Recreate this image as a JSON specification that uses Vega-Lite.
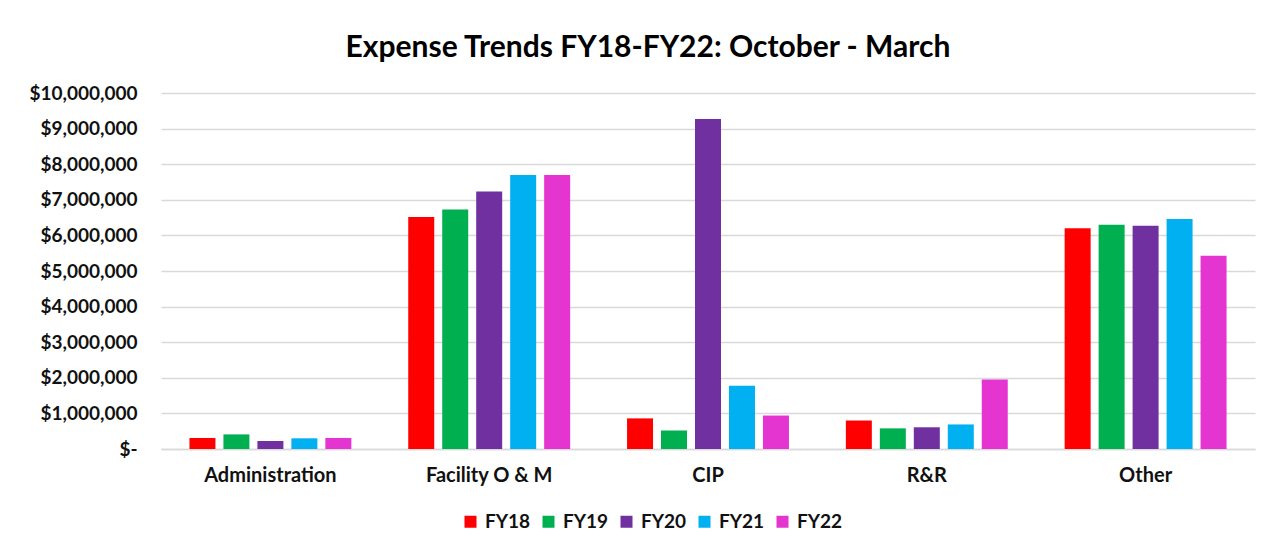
{
  "$schema": "https://vega.github.io/schema/vega-lite/v6.json",
  "width": 1094,
  "height": 356,
  "autosize": "none",
  "padding": {"left": 161, "top": 93, "right": 24, "bottom": 101},
  "background": "white",
  "title": {
    "text": "Expense Trends FY18-FY22: October - March",
    "font": "Lato",
    "fontSize": 30,
    "fontWeight": "bold",
    "color": "#000000",
    "anchor": "middle",
    "dx": -60,
    "offset": 21
  },
  "data": {
    "values": [
      {"category": "Administration", "year": "FY18", "value": 310000},
      {"category": "Administration", "year": "FY19", "value": 410000},
      {"category": "Administration", "year": "FY20", "value": 225000},
      {"category": "Administration", "year": "FY21", "value": 300000},
      {"category": "Administration", "year": "FY22", "value": 310000},
      {"category": "Facility O & M", "year": "FY18", "value": 6520000},
      {"category": "Facility O & M", "year": "FY19", "value": 6730000},
      {"category": "Facility O & M", "year": "FY20", "value": 7230000},
      {"category": "Facility O & M", "year": "FY21", "value": 7700000},
      {"category": "Facility O & M", "year": "FY22", "value": 7700000},
      {"category": "CIP", "year": "FY18", "value": 860000},
      {"category": "CIP", "year": "FY19", "value": 520000},
      {"category": "CIP", "year": "FY20", "value": 9270000},
      {"category": "CIP", "year": "FY21", "value": 1780000},
      {"category": "CIP", "year": "FY22", "value": 940000},
      {"category": "R&R", "year": "FY18", "value": 800000},
      {"category": "R&R", "year": "FY19", "value": 580000},
      {"category": "R&R", "year": "FY20", "value": 610000},
      {"category": "R&R", "year": "FY21", "value": 690000},
      {"category": "R&R", "year": "FY22", "value": 1950000},
      {"category": "Other", "year": "FY18", "value": 6200000},
      {"category": "Other", "year": "FY19", "value": 6300000},
      {"category": "Other", "year": "FY20", "value": 6270000},
      {"category": "Other", "year": "FY21", "value": 6460000},
      {"category": "Other", "year": "FY22", "value": 5430000}
    ]
  },
  "mark": {"type": "bar"},
  "encoding": {
    "x": {
      "field": "category",
      "type": "nominal",
      "sort": ["Administration", "Facility O & M", "CIP", "R&R", "Other"],
      "scale": {"paddingInner": 0.26, "paddingOuter": 0.13},
      "axis": {
        "title": null,
        "labelAngle": 0,
        "labelFont": "Lato",
        "labelFontSize": 20,
        "labelFontWeight": "bold",
        "labelColor": "#111111",
        "labelPadding": 16,
        "ticks": false,
        "domain": true,
        "domainColor": "#D9D9D9",
        "domainWidth": 1.5
      }
    },
    "xOffset": {
      "field": "year",
      "type": "nominal",
      "scale": {"paddingInner": 0.235, "paddingOuter": 0}
    },
    "y": {
      "field": "value",
      "type": "quantitative",
      "scale": {"domain": [0, 10000000], "nice": false},
      "axis": {
        "title": null,
        "values": [0, 1000000, 2000000, 3000000, 4000000, 5000000, 6000000, 7000000, 8000000, 9000000, 10000000],
        "labelExpr": "datum.value == 0 ? '$-' : '$' + format(datum.value, ',')",
        "labelFont": "Lato",
        "labelFontSize": 19,
        "labelFontWeight": "bold",
        "labelColor": "#111111",
        "labelPadding": 24,
        "ticks": false,
        "domain": false,
        "grid": true,
        "gridColor": "#D9D9D9",
        "gridWidth": 1.5
      }
    },
    "color": {
      "field": "year",
      "type": "nominal",
      "scale": {
        "domain": ["FY18", "FY19", "FY20", "FY21", "FY22"],
        "range": ["#FF0000", "#00B050", "#7030A0", "#00B0F0", "#E535D1"]
      },
      "legend": {
        "title": null,
        "orient": "none",
        "direction": "horizontal",
        "legendX": 300,
        "legendY": 419,
        "symbolType": "square",
        "symbolSize": 144,
        "symbolStrokeWidth": 0,
        "labelFont": "Lato",
        "labelFontSize": 19,
        "labelFontWeight": "bold",
        "labelColor": "#111111",
        "labelOffset": 5,
        "columnPadding": 8
      }
    }
  },
  "config": {
    "view": {"stroke": null}
  }
}
